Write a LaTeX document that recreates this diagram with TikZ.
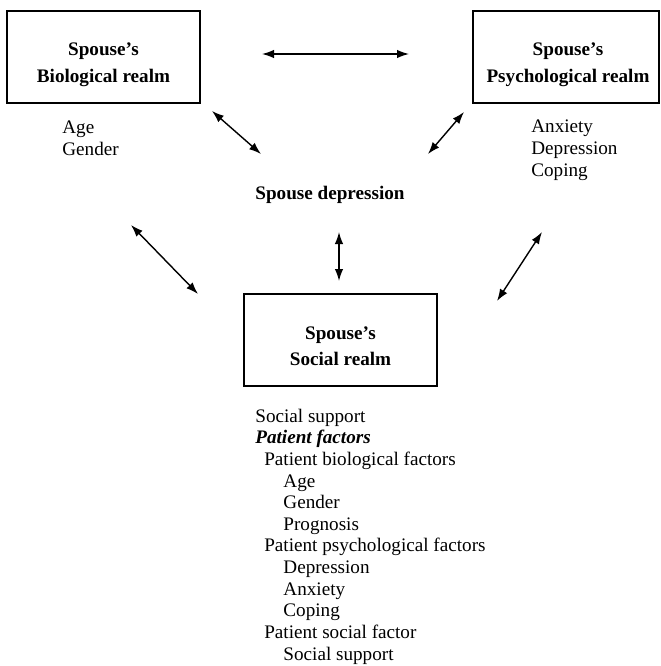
\documentclass[tikz,border=0pt]{standalone}
\usepackage{fontspec}
\setmainfont{Liberation Serif}
\usetikzlibrary{arrows.meta,positioning}
\tikzset{
  realm/.style={draw,line width=0.7pt,minimum width=3.86cm,minimum height=1.84cm,inner sep=0pt},
  realmtext/.style={font=\fontsize{10.9}{14.8}\selectfont\bfseries,align=center,anchor=base,inner sep=0pt},
  items/.style={font=\fontsize{10.9}{12.3}\selectfont,align=left,anchor=base west,inner sep=0pt},
  link/.style={{Latex[length=2.4mm,width=1.7mm]}-{Latex[length=2.4mm,width=1.7mm]},line width=0.8pt}
}
\newcommand{\lvlone}{\hspace{5.1pt}}
\newcommand{\lvltwo}{\hspace{16pt}}
\begin{document}
\begin{tikzpicture}[x=0.02cm,y=-0.02cm]
\useasboundingbox (0,0) rectangle (660,666);
% the three realms
\node[realm] (bio) at (103.5,57) {};
\node[realm,minimum width=3.72cm] (psy) at (566,57) {};
\node[realm] (soc) at (340.5,340) {};
% base is the last line
\node[realmtext] (bio-t) at (103.5,82) {Spouse's\\Biological realm};
\node[realmtext] (psy-t) at (568,82) {Spouse's\\Psychological realm};
\node[realmtext] (soc-t) at (340.5,365) {Spouse's\\Social realm};
\node[realmtext] (dep) at (330,199) {Spouse depression};
% lists of factors
\node[items] (bio-l) at (62,155) {Age\\Gender};
\node[items] (psy-l) at (531,176) {Anxiety\\Depression\\Coping};
\node[items] (soc-l) at (255,660) {Social support\\
  \textbf{\textit{Patient factors}}\\
  \lvlone Patient biological factors\\
  \lvltwo Age\\
  \lvltwo Gender\\
  \lvltwo Prognosis\\
  \lvlone Patient psychological factors\\
  \lvltwo Depression\\
  \lvltwo Anxiety\\
  \lvltwo Coping\\
  \lvlone Patient social factor\\
  \lvltwo Social support};
% arrow ends
\coordinate (bp-a) at (262,54);
\coordinate (bp-b) at (409,54);
\coordinate (bd-a) at (212,111);
\coordinate (bd-b) at (261,154);
\coordinate (pd-a) at (464,112);
\coordinate (pd-b) at (428,154);
\coordinate (bs-a) at (131,225);
\coordinate (bs-b) at (198,294);
\coordinate (ds-a) at (339,232);
\coordinate (ds-b) at (339,281);
\coordinate (ps-a) at (542,232);
\coordinate (ps-b) at (497,301);
\draw[link] (bp-a) -- (bp-b);
\draw[link] (bd-a) -- (bd-b);
\draw[link] (pd-a) -- (pd-b);
\draw[link] (bs-a) -- (bs-b);
\draw[link] (ds-a) -- (ds-b);
\draw[link] (ps-a) -- (ps-b);
\end{tikzpicture}
\end{document}
